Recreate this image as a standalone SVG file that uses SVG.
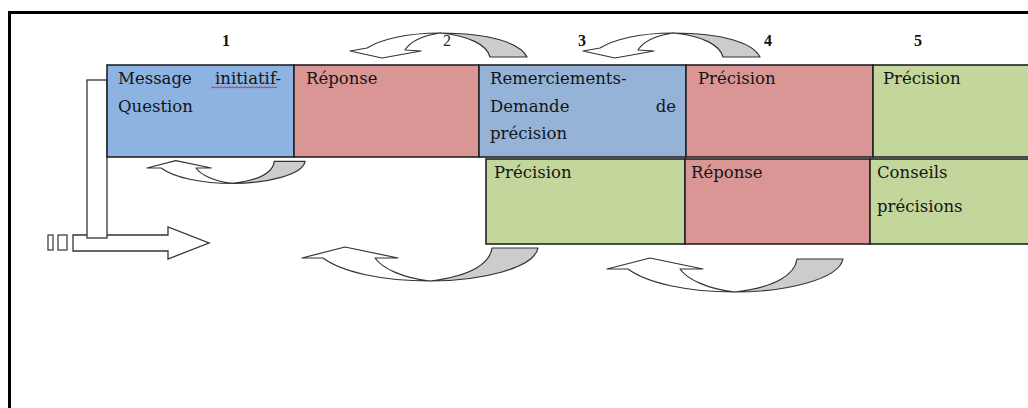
<svg xmlns="http://www.w3.org/2000/svg" width="1028" height="408" viewBox="0 0 1028 408">
<style>
.t{font-family:"DejaVu Serif","Liberation Serif",serif;font-size:16.5px;fill:#141414}
.n{font-family:"Liberation Serif",serif;font-size:16px;font-weight:bold;fill:#111}
.cell{stroke:#222;stroke-width:1.6}
.blue1{fill:#8db3e2}.blue2{fill:#95b3d7}.red{fill:#d99694}.green{fill:#c3d69b}
.aw{fill:#fff;stroke:#333;stroke-width:1.2;stroke-linejoin:round;vector-effect:non-scaling-stroke}
.ag{fill:#cccccc;stroke:#333;stroke-width:1.2;stroke-linejoin:round;vector-effect:non-scaling-stroke}
.ln{fill:#fff;stroke:#333;stroke-width:1.3}
</style>
<defs>
<g id="down">
<path class="ag" d="M90,-18 C140,-18 170,-8 177,6 L140,6 C137,-6 120,-15 90,-18 Z"/>
<path class="aw" d="M0,0 L17,-3 C30,-11 55,-18 90,-18 C70,-15 60,-9 55,-1 L71,0 L32,7 Z"/>
</g>
<g id="up">
<path class="ag" d="M128,23 C180,23 232,10 236,-10 L190,-10 C188,5 170,18 128,23 Z"/>
<path class="aw" d="M0,0 L43,-11 L96,0 L73,0 C80,10 100,20 128,23 C80,23 40,14 21,0 Z"/>
</g>
</defs>
<rect width="1028" height="408" fill="#fff"/>
<path d="M9.5,408 V12.5 H1028" fill="none" stroke="#000" stroke-width="3"/>

<g id="entry">
<path class="ln" d="M73,235 H168 V227 L209,243 L168,259 V251 H73 Z"/>
<rect class="ln" x="87" y="80" width="20" height="158"/>
<rect x="48" y="235" width="5" height="15" fill="none" stroke="#333" stroke-width="1.2"/>
<rect x="58" y="235" width="9" height="15" fill="none" stroke="#333" stroke-width="1.2"/>
</g>

<g id="cell1">
<rect class="cell blue1" x="107" y="65" width="187" height="92"/>
<text class="t" x="118" y="84">Message</text>
<text class="t" x="281" y="84" text-anchor="end">initiatif-</text>
<polyline points="211,88 213,86.8 215,88 217,86.8 219,88 221,86.8 223,88 225,86.8 227,88 229,86.8 231,88 233,86.8 235,88 237,86.8 239,88 241,86.8 243,88 245,86.8 247,88 249,86.8 251,88 253,86.8 255,88 257,86.8 259,88 261,86.8 263,88 265,86.8 267,88 269,86.8 271,88 273,86.8 275,88 277,86.8" fill="none" stroke="#d02020" stroke-width="0.9"/>
<text class="t" x="118" y="112">Question</text>
</g>
<g id="cell2">
<rect class="cell red" x="294" y="65" width="185" height="92"/>
<text class="t" x="306" y="84">Réponse</text>
</g>
<g id="cell3">
<rect class="cell blue2" x="479" y="65" width="207" height="92"/>
<text class="t" x="490" y="84">Remerciements-</text>
<text class="t" x="490" y="111.5">Demande</text>
<text class="t" x="676" y="111.5" text-anchor="end">de</text>
<text class="t" x="490" y="139">précision</text>
</g>
<g id="cell4">
<rect class="cell red" x="686" y="65" width="187" height="92"/>
<text class="t" x="698" y="84">Précision</text>
</g>
<g id="cell5">
<rect class="cell green" x="873" y="65" width="160" height="92"/>
<text class="t" x="883" y="84">Précision</text>
</g>
<g id="cell6">
<rect class="cell green" x="486" y="159" width="199" height="85"/>
<text class="t" x="494" y="178">Précision</text>
</g>
<g id="cell7">
<rect class="cell red" x="685" y="159" width="185" height="85"/>
<text class="t" x="691" y="178">Réponse</text>
</g>
<g id="cell8">
<rect class="cell green" x="870" y="159" width="165" height="85"/>
<text class="t" x="877" y="178">Conseils</text>
<text class="t" x="877" y="212">précisions</text>
</g>

<g id="connectors">
<use href="#down" transform="translate(350,51)"/>
<use href="#down" transform="translate(583,51)"/>
<use href="#up" transform="translate(147,168) scale(0.67)"/>
<use href="#up" transform="translate(302,258)"/>
<use href="#up" transform="translate(607,269)"/>
</g>

<g id="labels">
<text class="n" x="226" y="46" text-anchor="middle">1</text>
<text class="n" x="447" y="46" text-anchor="middle" style="font-weight:normal;fill:#1c2450">2</text>
<text class="n" x="582" y="46" text-anchor="middle">3</text>
<text class="n" x="768" y="46" text-anchor="middle">4</text>
<text class="n" x="918" y="46" text-anchor="middle">5</text>
</g>
</svg>
